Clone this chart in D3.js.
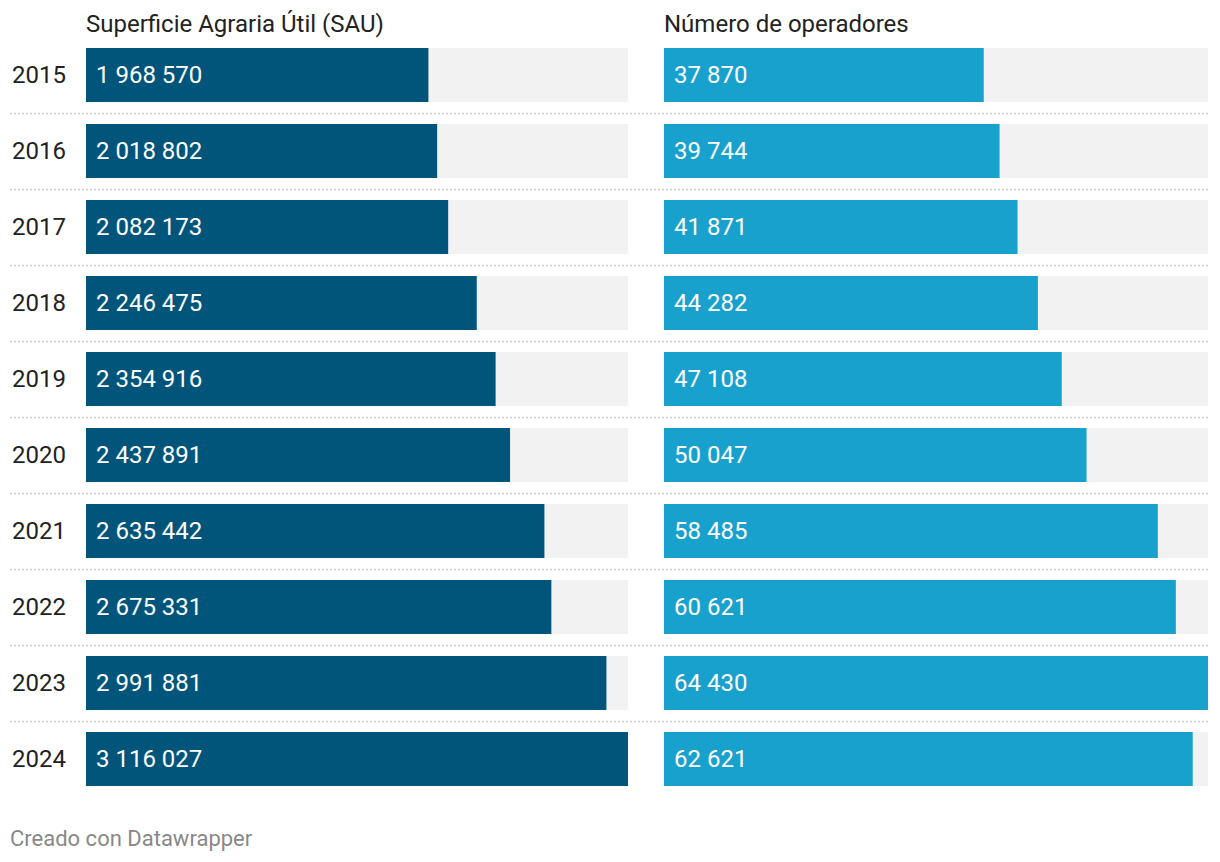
<!DOCTYPE html>
<html>
<head>
<meta charset="utf-8">
<script src="https://cdn.jsdelivr.net/npm/d3@7"></script>
<style>
  body { margin: 0; background: #fff; font-family: Roboto, "Noto Sans", sans-serif; }
  svg text { font-family: Roboto, "Noto Sans", sans-serif; }
</style>
</head>
<body>
<svg id="chart" width="1220" height="862"></svg>
<script>
const years = [2015, 2016, 2017, 2018, 2019, 2020, 2021, 2022, 2023, 2024];
const sau = [1968570, 2018802, 2082173, 2246475, 2354916, 2437891, 2635442, 2675331, 2991881, 3116027];
const operadores = [37870, 39744, 41871, 44282, 47108, 50047, 58485, 60621, 64430, 62621];
const titles = ["Superficie Agraria Útil (SAU)", "Número de operadores"];

const svg = d3.select("#chart");
const fmt = v => d3.format(",")(v).replace(/,/g, " ");

const y = d3.scaleBand()
  .domain(years)
  .range([48 - 11, 48 - 11 + 76 * years.length])
  .paddingInner(22 / 76)
  .paddingOuter(11 / 76);

const panels = [
  { title: titles[0], data: sau, x0: 86, x1: 628, color: "#01557b" },
  { title: titles[1], data: operadores, x0: 664, x1: 1208, color: "#18a1cd" }
];

// separators between rows
svg.append("g")
  .selectAll("line")
  .data(years.slice(1))
  .join("line")
  .attr("x1", 10).attr("x2", 1208)
  .attr("y1", d => y(d) - 11 + 0.5)
  .attr("y2", d => y(d) - 11 + 0.5)
  .attr("stroke", "#cccccc")
  .attr("stroke-width", 1.5)
  .attr("stroke-dasharray", "2,2");

// year labels
svg.append("g")
  .selectAll("text")
  .data(years)
  .join("text")
  .attr("x", 12)
  .attr("y", d => y(d) + y.bandwidth() / 2)
  .attr("dy", "0.33em")
  .attr("font-size", 24)
  .attr("fill", "#222")
  .text(d => d);

panels.forEach(p => {
  const x = d3.scaleLinear().domain([0, d3.max(p.data)]).range([p.x0, p.x1]);
  const g = svg.append("g");

  g.append("text")
    .attr("x", p.x0)
    .attr("y", 32)
    .attr("font-size", 24)
    .attr("fill", "#222")
    .text(p.title);

  g.selectAll("rect.bg")
    .data(years)
    .join("rect")
    .attr("class", "bg")
    .attr("x", p.x0)
    .attr("y", d => y(d))
    .attr("width", p.x1 - p.x0)
    .attr("height", y.bandwidth())
    .attr("fill", "#f2f2f2");

  g.selectAll("rect.bar")
    .data(p.data)
    .join("rect")
    .attr("class", "bar")
    .attr("x", x(0))
    .attr("y", (d, i) => y(years[i]))
    .attr("width", d => x(d) - x(0))
    .attr("height", y.bandwidth())
    .attr("fill", p.color);

  g.selectAll("text.val")
    .data(p.data)
    .join("text")
    .attr("class", "val")
    .attr("x", x(0) + 10)
    .attr("y", (d, i) => y(years[i]) + y.bandwidth() / 2)
    .attr("dy", "0.33em")
    .attr("font-size", 24)
    .attr("fill", "#fff")
    .text(d => fmt(d));
});

svg.append("text")
  .attr("x", 10)
  .attr("y", 846)
  .attr("font-size", 22)
  .attr("fill", "#888")
  .text("Creado con Datawrapper");
</script>
</body>
</html>
